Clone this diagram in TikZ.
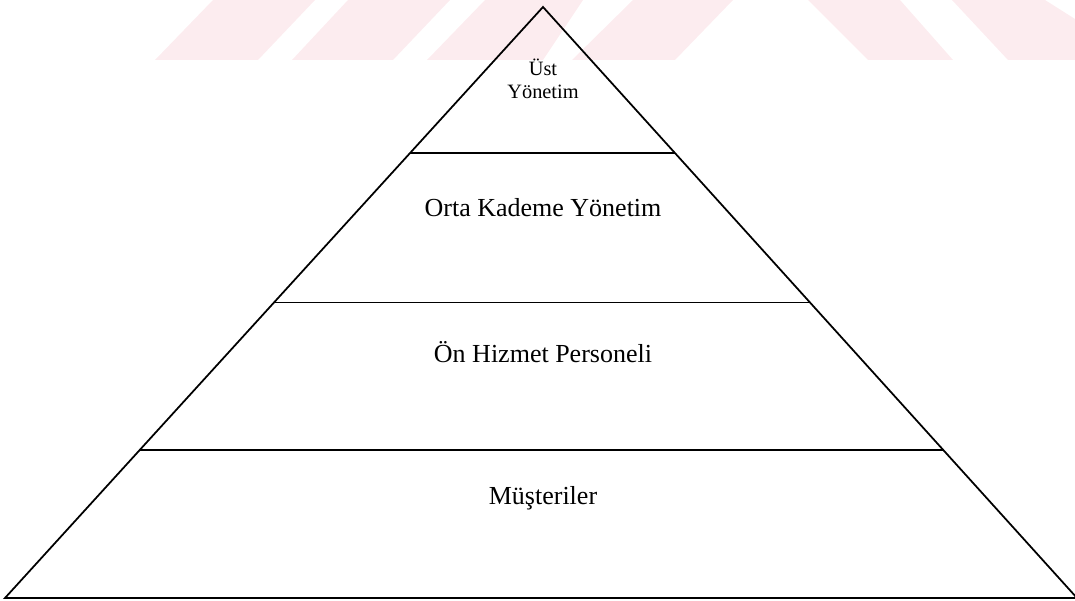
\documentclass[tikz,border=0pt]{standalone}
\usepackage{fontspec}
\setmainfont{Liberation Serif}
\usetikzlibrary{calc}

\definecolor{wmpink}{RGB}{252,236,239}

\begin{document}
\begin{tikzpicture}[
    x=0.02cm, y=-0.02cm,
    side_line/.style={black, line width=1pt, line join=miter},
    level_line/.style={black, line width=1.1pt},
    label_big/.style={font=\fontsize{14.8}{17}\selectfont, inner sep=0pt},
    label_small/.style={font=\fontsize{11.6}{13}\selectfont, align=center, inner sep=0pt},
    watermark/.style={fill=wmpink, draw=none}
]

% Marco de la figura (en pixeles del original)
\useasboundingbox (0,0) rectangle (1075,601);

% Altura de la banda de la marca de agua
\def\wmh{60}

% ==========================
% MARCA DE AGUA
% ==========================
\foreach \xa/\xb/\xc/\xd in {
    213/315/258/155, 348/450/393/292, 485/583/543/427, 633/733/675/572
} {
    \fill[watermark] (\xa,0) -- (\xb,0) -- (\xc,\wmh) -- (\xd,\wmh) -- cycle;
}
\fill[watermark] (808,0) -- (900,0) -- (953,\wmh) -- (868,\wmh) -- cycle;
\fill[watermark] (952,0) -- (1045,0) -- (1075,19) -- (1075,\wmh) -- (1008,\wmh) -- cycle;

% ==========================
% PIRAMIDE
% ==========================
\coordinate (top) at (543,7);
\coordinate (bl) at (5,598);
\coordinate (br) at (1077,598);

\draw[side_line] (bl) -- (top) -- (br) -- cycle;

% Lineas entre niveles
\foreach \k/\t in {1/0.247, 2/0.5, 3/0.75} {
    \coordinate (L-\k) at ($(top)!\t!(bl)$);
    \coordinate (R-\k) at ($(top)!\t!(br)$);
    \draw[level_line] (L-\k) -- (R-\k);
}

% ==========================
% ETIQUETAS
% ==========================
\node[label_small] (lvl-1) at (543,79) {Üst\\Yönetim};
\node[label_big] (lvl-2) at (543,208) {Orta Kademe Yönetim};
\node[label_big] (lvl-3) at (543,352) {Ön Hizmet Personeli};
\node[label_big] (lvl-4) at (543,498) {Müşteriler};

\end{tikzpicture}
\end{document}
